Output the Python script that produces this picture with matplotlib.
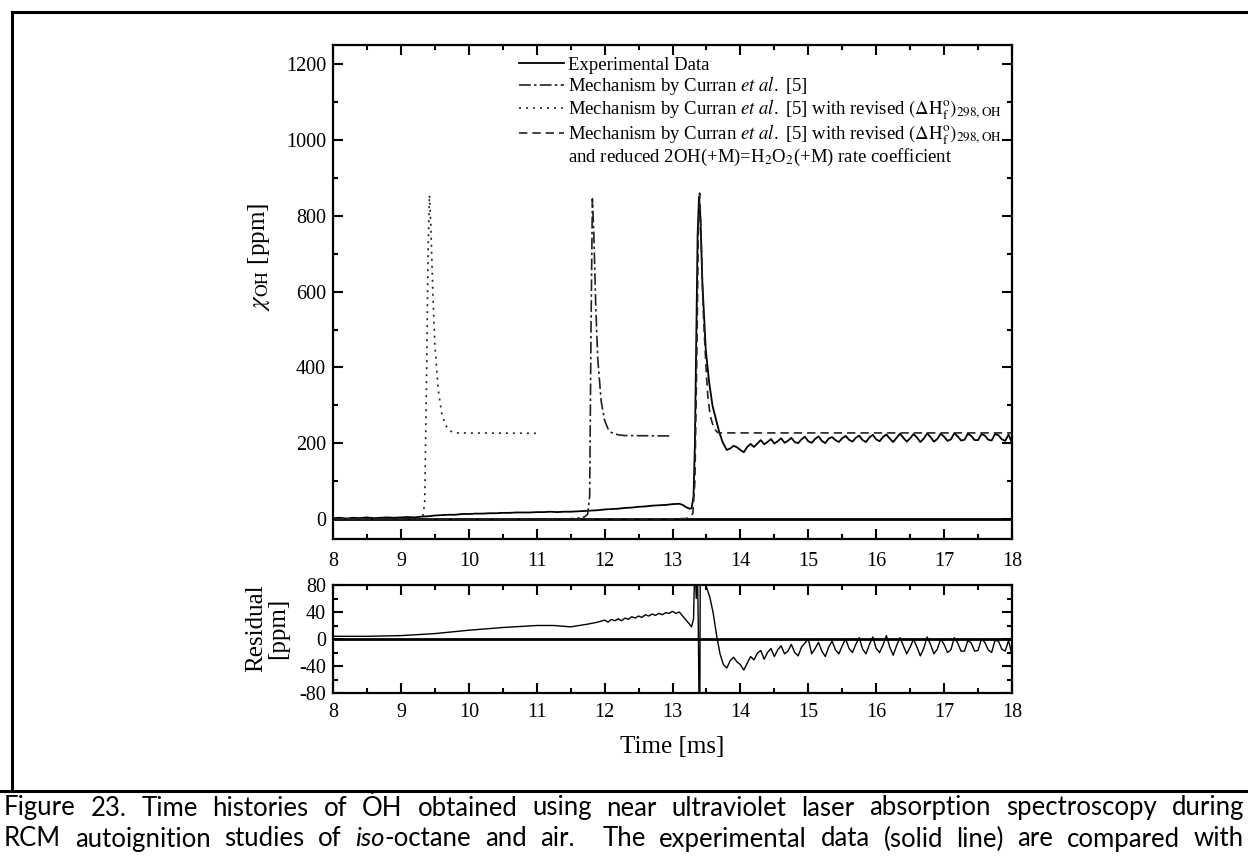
import numpy as np
import matplotlib
matplotlib.use('Agg')
import matplotlib.pyplot as plt
from matplotlib import font_manager
from matplotlib.lines import Line2D
from matplotlib.ticker import MultipleLocator

plt.rcParams['font.family'] = ['Liberation Serif', 'DejaVu Serif']
plt.rcParams['mathtext.fontset'] = 'stix'
plt.rcParams['axes.unicode_minus'] = False

# experimental OH mole fraction [ppm]
exp_t = [8.0, 8.1, 8.2, 8.3, 8.4, 8.5, 8.6, 8.7, 8.8, 8.9,
         9.0, 9.1, 9.2, 9.3, 9.4, 9.5, 9.6, 9.7, 9.8, 9.9,
         10.0, 10.1, 10.2, 10.3, 10.4, 10.5, 10.6, 10.7, 10.8, 10.9,
         11.0, 11.1, 11.2, 11.3, 11.4, 11.5, 11.6, 11.7, 11.8, 11.9,
         12.0, 12.1, 12.2, 12.3, 12.4, 12.5, 12.6, 12.7, 12.8, 12.9,
         13.0, 13.1, 13.15, 13.2, 13.25, 13.28,
         13.31, 13.33, 13.35, 13.37, 13.39, 13.41, 13.44, 13.49, 13.54, 13.59,
         13.64, 13.69, 13.74, 13.80, 13.85, 13.90, 13.95,
         14.00, 14.05, 14.10, 14.15, 14.20, 14.25, 14.30, 14.35, 14.40, 14.45,
         14.50, 14.55, 14.60, 14.65, 14.70, 14.75, 14.80, 14.85, 14.90, 14.95,
         15.00, 15.05, 15.10, 15.15, 15.20, 15.25, 15.30, 15.35, 15.40, 15.45,
         15.50, 15.55, 15.60, 15.65, 15.70, 15.75, 15.80, 15.85, 15.90, 15.95,
         16.00, 16.05, 16.10, 16.15, 16.20, 16.25, 16.30, 16.35, 16.40, 16.45,
         16.50, 16.55, 16.60, 16.65, 16.70, 16.75, 16.80, 16.85, 16.90, 16.95,
         17.00, 17.05, 17.10, 17.15, 17.20, 17.25, 17.30, 17.35, 17.40, 17.45,
         17.50, 17.55, 17.60, 17.65, 17.70, 17.75, 17.80, 17.85, 17.90, 17.95,
         18.00]
exp_y = [2, 3, 1, 3, 2, 4, 2, 3, 4, 3,
         4, 5, 4, 6, 7, 9, 10, 11, 11, 13,
         13, 14, 14, 15, 15, 16, 16, 17, 17, 17,
         18, 18, 19, 18, 19, 19, 20, 21, 22, 23,
         25, 26, 27, 29, 30, 32, 33, 35, 36, 37,
         39, 40, 37, 31, 27, 28,
         60, 200, 480, 750, 850, 800, 623, 447, 360, 298,
         263, 228, 202, 182, 186, 193, 189,
         182, 176, 190, 198, 190, 199, 208, 197, 203, 211,
         199, 205, 213, 201, 206, 214, 203, 200, 210, 217,
         205, 201, 211, 218, 206, 200, 212, 216, 208, 203,
         213, 219, 209, 204, 214, 220, 208, 203, 215, 222,
         210, 205, 216, 223, 212, 203, 214, 225, 214, 204,
         213, 224, 215, 203, 212, 226, 216, 204, 211, 225,
         217, 206, 210, 226, 218, 207, 209, 225, 219, 208,
         208, 224, 220, 209, 207, 224, 221, 210, 206, 223,
         200]

# Curran et al. mechanism
cur_t = [8.0, 11.45, 11.6, 11.7, 11.75, 11.78, 11.80, 11.82, 11.84, 11.87,
         11.90, 11.95, 12.0, 12.05, 12.1, 12.2, 12.3, 13.0]
cur_y = [0, 0, 2, 5, 12, 60, 500, 845, 760, 560,
         420, 310, 260, 238, 228, 222, 220, 219]

# revised heat of formation
rev_t = [8.0, 9.25, 9.32, 9.35, 9.38, 9.40, 9.42, 9.44, 9.47, 9.50,
         9.55, 9.60, 9.65, 9.70, 9.75, 9.8, 11.0]
rev_y = [0, 0, 5, 40, 400, 700, 855, 780, 600, 460,
         340, 280, 250, 236, 230, 227, 226]

# revised heat of formation + reduced 2OH(+M)=H2O2(+M)
red_t = [8.0, 13.0, 13.2, 13.26, 13.3, 13.33, 13.36, 13.38, 13.40, 13.42,
         13.45, 13.47, 13.50, 13.52, 13.55, 13.57, 13.60, 13.62, 13.66, 13.70,
         14.0, 18.0]
red_y = [0, 0, 1, 5, 15, 100, 450, 750, 860, 760,
         560, 482, 380, 325, 280, 263, 245, 237, 229, 227,
         227, 227]

# residual [ppm]
res_t = [8.0, 8.5, 9.0, 9.5, 10.0, 10.5, 11.0, 11.25, 11.5, 11.75,
         11.9, 12.0, 12.05, 12.1, 12.15, 12.2, 12.25, 12.3, 12.35, 12.4,
         12.45, 12.5, 12.55, 12.6, 12.65, 12.7, 12.75, 12.8, 12.85, 12.9,
         12.95, 13.0, 13.05, 13.1, 13.15, 13.2, 13.25, 13.28, 13.31, 13.33,
         13.35, 13.36, 13.38, 13.40, 13.41, 13.44, 13.47, 13.50, 13.55, 13.60,
         13.65, 13.70, 13.75, 13.80, 13.85, 13.90, 13.95,
         14.00, 14.05, 14.10, 14.15, 14.20, 14.25, 14.30, 14.35, 14.40, 14.45,
         14.50, 14.55, 14.60, 14.65, 14.70, 14.75, 14.80, 14.85, 14.90, 14.95,
         15.00, 15.05, 15.10, 15.15, 15.20, 15.25, 15.30, 15.35, 15.40, 15.45,
         15.50, 15.55, 15.60, 15.65, 15.70, 15.75, 15.80, 15.85, 15.90, 15.95,
         16.00, 16.05, 16.10, 16.15, 16.20, 16.25, 16.30, 16.35, 16.40, 16.45,
         16.50, 16.55, 16.60, 16.65, 16.70, 16.75, 16.80, 16.85, 16.90, 16.95,
         17.00, 17.05, 17.10, 17.15, 17.20, 17.25, 17.30, 17.35, 17.40, 17.45,
         17.50, 17.55, 17.60, 17.65, 17.70, 17.75, 17.80, 17.85, 17.90, 17.95,
         18.00]
res_y = [4, 4, 5, 8, 13, 17, 20, 20, 18, 22,
         25, 28, 25, 29, 27, 30, 27, 31, 29, 33,
         31, 34, 32, 36, 34, 37, 35, 38, 36, 39,
         38, 41, 38, 40, 34, 28, 22, 18, 30, 120,
         60, 150, 20, -200, 150, 120, 85, 77, 62, 38,
         5, -22, -38, -43, -32, -27, -34,
         -38, -46, -36, -26, -31, -21, -17, -30, -20, -14,
         -26, -16, -10, -22, -18, -8, -20, -25, -12, -6,
         0, -22, -14, -5, -18, -26, -12, -3, -16, -22,
         -10, 0, -14, -20, -8, 2, -15, -22, -8, 3,
         -14, -20, -9, 5, -12, -24, -10, 2, -10, -22,
         -12, 0, -12, -25, -14, 3, -8, -22, -15, 0,
         -8, -20, -16, 2, -6, -18, -18, -2, -6, -18,
         -17, 0, -5, -16, -20, -2, -3, -15, -18, -2,
         -25]

labels = ['Experimental Data',
          r'Mechanism by Curran $\mathit{et\ al.}$ [5]',
          r'Mechanism by Curran $\mathit{et\ al.}$ [5] with revised $(\Delta\mathrm{H}_\mathrm{f}^\mathrm{o})_\mathrm{298,OH}$',
          r'Mechanism by Curran $\mathit{et\ al.}$ [5] with revised $(\Delta\mathrm{H}_\mathrm{f}^\mathrm{o})_\mathrm{298,OH}$',
          r'and reduced 2OH(+M)=H$_2$O$_2$(+M) rate coefficient']

# caption lines, |...| marks italic
caption_1 = 'Figure 23. Time histories of \u022eH obtained using near ultraviolet laser absorption spectroscopy during'
caption_2 = 'RCM autoignition studies of |iso|-octane and air.  The experimental data (solid line) are compared with'

W, H = 1248.0, 856.0
fig = plt.figure(figsize=(12.48, 8.56), dpi=100)
ax = fig.add_axes([333 / W, 1 - 539 / H, 679 / W, 494 / H])
ax_res = fig.add_axes([333 / W, 1 - 693 / H, 679 / W, 108 / H])

ls_cur = (0, (7, 2, 1.5, 2))
ls_rev = (0, (1.2, 3))
ls_red = (0, (5, 3))

ax.axhline(0, color='black', lw=2.0, zorder=1)
l_exp, = ax.plot(exp_t, exp_y, color='black', lw=1.3)
l_cur, = ax.plot(cur_t, cur_y, color='#222222', lw=1.2, linestyle=ls_cur)
l_rev, = ax.plot(rev_t, rev_y, color='#222222', lw=1.2, linestyle=ls_rev)
l_red, = ax.plot(red_t, red_y, color='#222222', lw=1.2, linestyle=ls_red)
blank = Line2D([], [], color='none')

ax.set_xlim(8, 18)
ax.set_ylim(-53, 1251)
ax.xaxis.set_major_locator(MultipleLocator(1))
ax.xaxis.set_minor_locator(MultipleLocator(0.5))
ax.yaxis.set_major_locator(MultipleLocator(200))
ax.yaxis.set_minor_locator(MultipleLocator(100))
ax.set_ylabel(r'$\chi_{\mathrm{OH}}$ [ppm]', fontsize=18)
ax.yaxis.set_label_coords(-0.09, 0.57)

leg = ax.legend([l_exp, l_cur, l_rev, l_red, blank], labels,
                loc='upper left', bbox_to_anchor=(0.274, 0.976),
                frameon=False, fontsize=13.5, handlelength=2.4,
                handletextpad=0.2, labelspacing=0.02, borderaxespad=0,
                borderpad=0)

ax_res.axhline(0, color='black', lw=2.0, zorder=1)
ax_res.plot(res_t, res_y, color='black', lw=1.0)
ax_res.set_xlim(8, 18)
ax_res.set_ylim(-80, 80)
ax_res.xaxis.set_major_locator(MultipleLocator(1))
ax_res.xaxis.set_minor_locator(MultipleLocator(0.5))
ax_res.yaxis.set_major_locator(MultipleLocator(40))
ax_res.yaxis.set_minor_locator(MultipleLocator(20))
ax_res.set_ylabel('Residual\n[ppm]', fontsize=18, linespacing=1.0)
ax_res.yaxis.set_label_coords(-0.065, 0.6)
ax_res.set_xlabel('Time [ms]', fontsize=18, labelpad=10)

for a in (ax, ax_res):
    a.tick_params(which='both', direction='in', top=True, right=True,
                  width=1.5, labelsize=14.5)
    a.tick_params(axis='x', pad=7)
    a.tick_params(axis='y', pad=5)
    a.tick_params(which='major', length=7.5)
    a.tick_params(which='minor', length=3.8)
    for s in a.spines.values():
        s.set_linewidth(1.6)
ax.tick_params(axis='x', pad=9)

# frame lines of the figure cell
fig.add_artist(Line2D([12 / W, 1.0], [1 - 12 / H, 1 - 12 / H], color='black', lw=2.2))
fig.add_artist(Line2D([12 / W, 12 / W], [1 - 12 / H, 1 - 791 / H], color='black', lw=2.2))
fig.add_artist(Line2D([0.0, 1.0], [1 - 791 / H, 1 - 791 / H], color='black', lw=2.2))

# caption, justified to the full width word by word
installed = {f.name for f in font_manager.fontManager.ttflist}
if 'Liberation Sans Narrow' in installed:
    cap_font = ['Liberation Sans Narrow', 'DejaVu Sans']
    cap_size = 17.5
else:
    cap_font = ['Lato', 'DejaVu Sans']
    cap_size = 18.5
renderer = fig.canvas.get_renderer()
x0, x1 = 4.0, 1244.0


def text_w(s, style='normal'):
    t = fig.text(0, 0, s, fontsize=cap_size, family=cap_font, style=style)
    w = t.get_window_extent(renderer).width
    t.remove()
    return w


def adv_w(s, style='normal'):
    # advance of s, trailing glyph bearings included
    return text_w(s + 'x', style) - text_w('x', style)


def justify(line, y):
    words = []
    weights = []
    gap = 0
    for w in line.split(' '):
        if w == '':
            gap += 1
            continue
        parts = w.split('|')
        pieces = [(p, 'italic' if i % 2 == 1 else 'normal')
                  for i, p in enumerate(parts) if p]
        weights.append(gap + 1 if words else 0)
        words.append(pieces)
        gap = 0
    widths = [sum(adv_w(p, st) for p, st in wd) for wd in words]
    space = (x1 - x0 - sum(widths)) / sum(weights)
    xp = x0
    for wd, wg, ww in zip(words, weights, widths):
        xp += wg * space
        xq = xp
        for p, st in wd:
            fig.text(xq / W, 1 - y / H, p, fontsize=cap_size, family=cap_font,
                     style=st, va='center')
            xq += adv_w(p, st)
        xp += ww


justify(caption_1, 808)
justify(caption_2, 839)

fig.savefig('out.png', dpi=100)
